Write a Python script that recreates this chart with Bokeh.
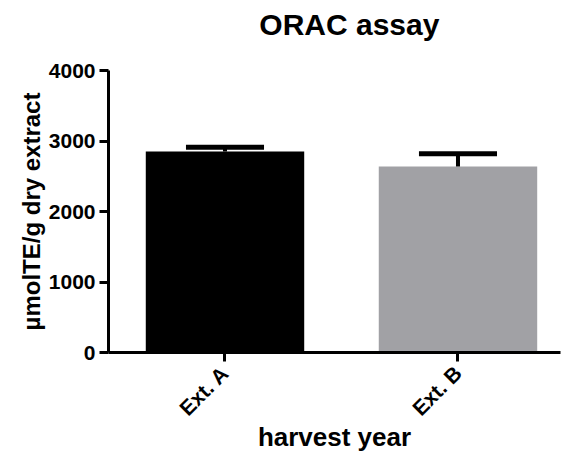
import math
from bokeh.plotting import figure
from bokeh.layouts import column
from bokeh.models import Range1d, FixedTicker, ColumnDataSource, Label
from bokeh.embed import file_html
from bokeh.resources import INLINE

categories = ["Ext. A", "Ext. B"]
means = [2851, 2638]
errors = [60, 180]
colors = ["#000000", "#A1A1A5"]
y_ticks = [0, 1000, 2000, 3000, 4000]
title_text = "ORAC assay"

xs = [i + 0.5 for i in range(len(categories))]
bar_w = 0.68
cap_w = 0.335
src = ColumnDataSource(dict(
    x=xs, top=means, color=colors,
    upper=[m + e for m, e in zip(means, errors)],
    cl=[x - cap_w / 2 for x in xs], cr=[x + cap_w / 2 for x in xs],
))

FONT = "Liberation Sans"
W = 563
TITLE_H = 60

# title strip
t = figure(width=W, height=TITLE_H, output_backend="svg", toolbar_location=None,
           x_range=Range1d(0, W), y_range=Range1d(0, TITLE_H),
           x_axis_location=None, y_axis_location=None,
           min_border_left=0, min_border_right=0, min_border_top=0, min_border_bottom=0)
t.grid.visible = False
t.outline_line_color = None
t.add_layout(Label(x=300, y=36, text=title_text,
                   text_align="center", text_baseline="alphabetic",
                   text_font=FONT, text_font_size="30px", text_font_style="bold",
                   text_color="black"))

p = figure(width=W, height=384, output_backend="svg", toolbar_location=None,
           x_range=Range1d(0, 1.94), y_range=Range1d(0, y_ticks[-1]),
           frame_width=452, frame_height=282,
           min_border_left=108, min_border_right=3, min_border_top=10, min_border_bottom=92)

p.vbar(x="x", top="top", width=bar_w, bottom=0, color="color", line_color=None, source=src)
p.segment(x0="x", y0="top", x1="x", y1="upper", line_width=4, line_color="black", source=src)
p.segment(x0="cl", y0="upper", x1="cr", y1="upper", line_width=5, line_color="black", source=src)

p.xgrid.visible = False
p.ygrid.visible = False
p.outline_line_color = None

for ax in (p.xaxis[0], p.yaxis[0]):
    ax.axis_line_width = 3
    ax.major_tick_line_width = 3
    ax.major_tick_in = 0
    ax.major_tick_out = 9
    ax.minor_tick_line_color = None
    ax.major_label_text_font = FONT
    ax.major_label_text_font_style = "bold"
    ax.major_label_text_color = "black"
    ax.axis_label_text_font = FONT
    ax.axis_label_text_font_style = "bold"
    ax.axis_label_text_color = "black"
    ax.axis_line_color = "black"
    ax.major_tick_line_color = "black"

p.xaxis.ticker = FixedTicker(ticks=xs)
p.xaxis.major_label_overrides = {x: c for x, c in zip(xs, categories)}
p.xaxis.major_label_orientation = math.pi / 4
p.xaxis.major_label_text_font_size = "21px"
p.xaxis.major_label_standoff = 8
p.xaxis.axis_label = "harvest year"
p.xaxis.axis_label_text_font_size = "26px"
p.xaxis.axis_label_standoff = -9

p.yaxis.ticker = FixedTicker(ticks=y_ticks)
p.yaxis.major_label_text_font_size = "21px"
p.yaxis.axis_label = "\u00b5molTE/g dry extract"
p.yaxis.axis_label_text_font_size = "24px"
p.yaxis.axis_label_standoff = 1
p.yaxis.major_label_standoff = 4

layout = column(t, p, spacing=0)
open("out.html", "w").write(file_html(layout, INLINE))
